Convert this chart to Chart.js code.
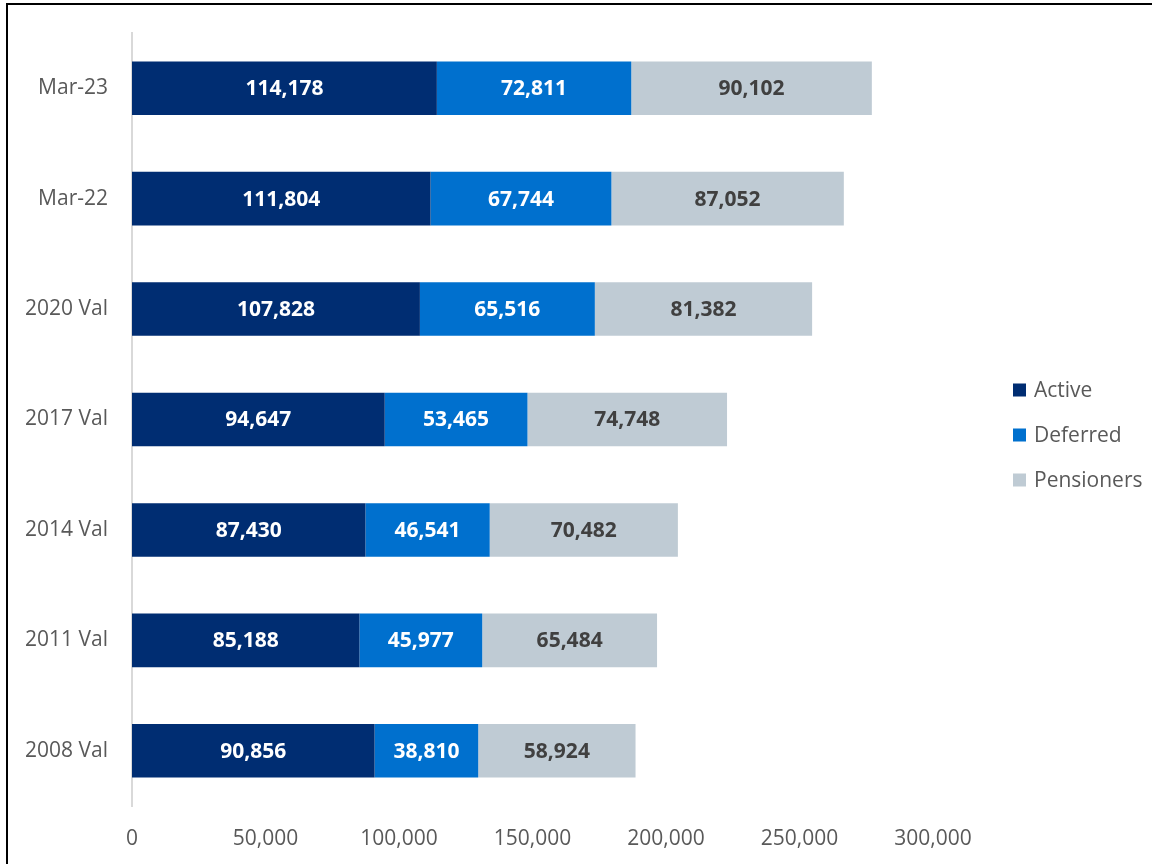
<!DOCTYPE html>
<html>
<head>
<meta charset="utf-8">
<script src="https://cdn.jsdelivr.net/npm/chart.js@4/dist/chart.umd.min.js"></script>
<style>
  html, body { margin: 0; padding: 0; background: #ffffff; }
  #wrap { position: relative; width: 1152px; height: 864px; }
  #frame { position: absolute; left: 6px; top: 3px; width: 1160px; height: 880px; border: 2px solid #000; box-sizing: border-box; pointer-events: none; }
</style>
</head>
<body>
<div id="wrap">
  <canvas id="c" width="1152" height="864"></canvas>
  <div id="frame"></div>
</div>
<script>
const categories = ["Mar-23", "Mar-22", "2020 Val", "2017 Val", "2014 Val", "2011 Val", "2008 Val"];
const active = [114178, 111804, 107828, 94647, 87430, 85188, 90856];
const deferred = [72811, 67744, 65516, 53465, 46541, 45977, 38810];
const pensioners = [90102, 87052, 81382, 74748, 70482, 65484, 58924];
const seriesNames = ["Active", "Deferred", "Pensioners"];
const xTicks = [0, 50000, 100000, 150000, 200000, 250000, 300000];

const colors = ["#002D72", "#0070CE", "#BFCBD4"];
const labelColors = ["#FFFFFF", "#FFFFFF", "#404040"];
const FONT = "'Open Sans', 'Liberation Sans', sans-serif";

const fmt = v => v.toLocaleString('en-US');

const valueLabels = {
  id: 'valueLabels',
  afterDatasetsDraw(chart) {
    const ctx = chart.ctx;
    ctx.save();
    ctx.font = "bold 21px " + FONT;
    ctx.textAlign = 'center';
    ctx.textBaseline = 'middle';
    chart.data.datasets.forEach((ds, i) => {
      const meta = chart.getDatasetMeta(i);
      meta.data.forEach((bar, j) => {
        const x = (bar.x + bar.base) / 2;
        ctx.fillStyle = labelColors[i];
        ctx.fillText(fmt(ds.data[j]), x, bar.y + 1);
      });
    });
    ctx.restore();
  }
};

const customLegend = {
  id: 'customLegend',
  afterDraw(chart) {
    const ctx = chart.ctx;
    ctx.save();
    ctx.font = "21px " + FONT;
    ctx.textAlign = 'left';
    ctx.textBaseline = 'middle';
    chart.data.datasets.forEach((ds, i) => {
      const y = 390 + i * 45;
      ctx.fillStyle = ds.backgroundColor;
      ctx.fillRect(1013, y - 6.5, 13, 13);
      ctx.fillStyle = '#595959';
      ctx.fillText(ds.label, 1034, y + 1);
    });
    ctx.restore();
  }
};

const dataSeries = [active, deferred, pensioners];

new Chart(document.getElementById('c'), {
  type: 'bar',
  data: {
    labels: categories,
    datasets: dataSeries.map((d, i) => ({
      label: seriesNames[i],
      data: d,
      backgroundColor: colors[i],
      borderWidth: 0,
      barPercentage: 0.485,
      categoryPercentage: 1.0
    }))
  },
  options: {
    indexAxis: 'y',
    responsive: false,
    animation: false,
    devicePixelRatio: 1,
    layout: { padding: { top: 33, right: 219, bottom: 0, left: 0 } },
    plugins: {
      legend: { display: false },
      tooltip: { enabled: false }
    },
    scales: {
      x: {
        stacked: true,
        min: 0,
        max: 300000,
        afterBuildTicks: (s) => { s.ticks = xTicks.map(v => ({ value: v })); },
        grid: { display: false, drawTicks: false },
        border: { display: false },
        ticks: {
          padding: 20,
          color: '#595959',
          font: { family: FONT, size: 21 },
          callback: (v) => fmt(v),
          maxRotation: 0
        },
        afterFit: (s) => { s.height = 58; s.paddingLeft = 0; s.paddingRight = 0; }
      },
      y: {
        stacked: true,
        grid: { display: false, drawTicks: false },
        border: { display: true, color: '#D9D9D9', width: 2 },
        ticks: {
          padding: 24,
          color: '#595959',
          font: { family: FONT, size: 21 }
        },
        afterFit: (s) => { s.width = 132; s.paddingTop = 0; s.paddingBottom = 0; }
      }
    }
  },
  plugins: [valueLabels, customLegend]
});
</script>
</body>
</html>
